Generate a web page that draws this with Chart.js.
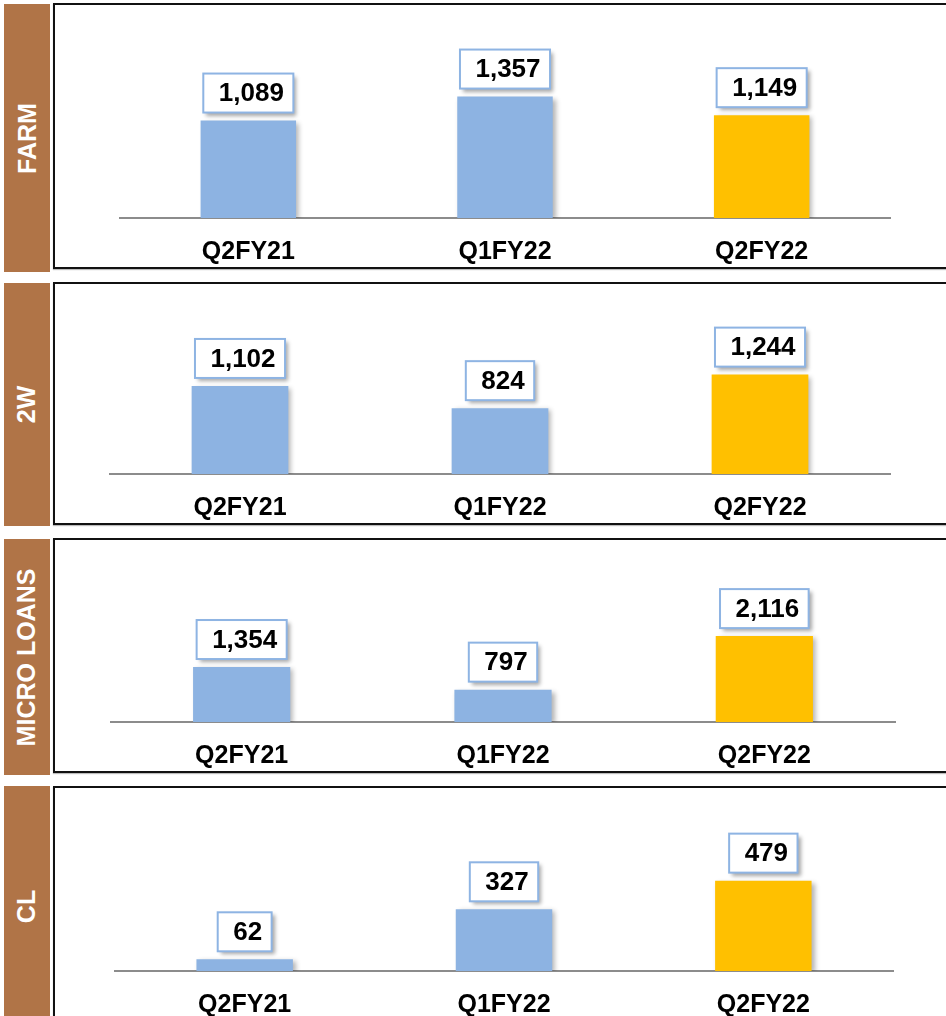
<!DOCTYPE html>
<html>
<head>
<meta charset="utf-8">
<script src="https://cdn.jsdelivr.net/npm/chart.js@4.4.1/dist/chart.umd.min.js"></script>
<style>
  body { margin: 0; background: #fff; width: 946px; height: 1016px; overflow: hidden; position: relative; font-family: "Liberation Sans", Arial, sans-serif; }
  .side { position: absolute; left: 4px; width: 46px; background: #B07447; display: flex; align-items: center; justify-content: center; }
  .side span { transform: rotate(-90deg); white-space: nowrap; color: #fff; font-weight: bold; font-size: 25px; }
  .box { position: absolute; left: 53px; width: 920px; border: 2px solid #111; box-sizing: border-box; box-shadow: 0 1px 1px #bbb; }
  canvas { position: absolute; left: 55px; }
</style>
</head>
<body>
<script>
// disbursement by segment, three quarters each
var quarters = ['Q2FY21', 'Q1FY22', 'Q2FY22'];
var segmentNames = ['FARM', '2W', 'MICRO LOANS', 'CL'];
var farmValues = [1089, 1357, 1149];
var twoWheelerValues = [1102, 824, 1244];
var microLoanValues = [1354, 797, 2116];
var clValues = [62, 327, 479];
var barColors = ['#8DB3E2', '#8DB3E2', '#FFC000'];

var segmentValues = [farmValues, twoWheelerValues, microLoanValues, clValues];

// page layout for each panel (px)
var panels = [
    { sideTop: 4,   sideH: 268, boxTop: 3,   boxH: 266, axisLeft: 120, axisRight: 890, yMax: 2380 },
    { sideTop: 283, sideH: 243, boxTop: 282, boxH: 243, axisLeft: 110, axisRight: 890, yMax: 2378 },
    { sideTop: 539, sideH: 236, boxTop: 538, boxH: 235, axisLeft: 111, axisRight: 895, yMax: 4483 },
    { sideTop: 786, sideH: 240, boxTop: 786, boxH: 250, axisLeft: 115, axisRight: 893, yMax: 970 }
];
var baselines = [218, 474, 722, 971];

var FONT = '"Liberation Sans", Arial, sans-serif';

// soft shadow under the bars
var barShadow = {
    id: 'barShadow',
    beforeDatasetsDraw: function (chart) {
        var ctx = chart.ctx;
        ctx.save();
        ctx.shadowColor = 'rgba(0,0,0,0.3)';
        ctx.shadowBlur = 5;
        ctx.shadowOffsetX = 3;
        ctx.shadowOffsetY = 2;
    },
    afterDatasetsDraw: function (chart) {
        chart.ctx.restore();
    }
};

// boxed value label above each bar
var valueBoxes = {
    id: 'valueBoxes',
    afterDraw: function (chart) {
        var ctx = chart.ctx;
        var meta = chart.getDatasetMeta(0);
        var values = chart.data.datasets[0].data;
        ctx.save();
        ctx.font = 'bold 26px ' + FONT;
        meta.data.forEach(function (bar, i) {
            var text = values[i].toLocaleString('en-US');
            var w = ctx.measureText(text).width + 25;
            var h = 39;
            var x = bar.x - w / 2;
            var y = bar.y - 8 - h;
            ctx.save();
            ctx.shadowColor = 'rgba(0,0,0,0.35)';
            ctx.shadowBlur = 4;
            ctx.shadowOffsetX = 3;
            ctx.shadowOffsetY = 3;
            ctx.fillStyle = '#fff';
            ctx.fillRect(x, y, w, h);
            ctx.restore();
            ctx.strokeStyle = '#8EB4E3';
            ctx.lineWidth = 2;
            ctx.strokeRect(x, y, w, h);
            ctx.fillStyle = '#000';
            ctx.textAlign = 'center';
            ctx.textBaseline = 'middle';
            ctx.fillText(text, bar.x + 3, y + h / 2 + 1);
        });
        ctx.restore();
    }
};

panels.forEach(function (p, k) {
    var side = document.createElement('div');
    side.className = 'side';
    side.style.top = p.sideTop + 'px';
    side.style.height = p.sideH + 'px';
    side.innerHTML = '<span>' + segmentNames[k] + '</span>';
    document.body.appendChild(side);

    var box = document.createElement('div');
    box.className = 'box';
    box.style.top = p.boxTop + 'px';
    box.style.height = p.boxH + 'px';
    document.body.appendChild(box);

    var top = p.boxTop + 2;
    var bottom = Math.min(p.boxTop + p.boxH - 2, 1016);
    var canvas = document.createElement('canvas');
    canvas.width = 891;
    canvas.height = bottom - top;
    canvas.style.top = top + 'px';
    document.body.appendChild(canvas);

    var axisHeight = bottom - baselines[k];

    new Chart(canvas, {
        type: 'bar',
        data: {
            labels: quarters,
            datasets: [{
                data: segmentValues[k],
                backgroundColor: barColors,
                borderWidth: 0,
                categoryPercentage: 1,
                barPercentage: 0.372
            }]
        },
        options: {
            responsive: false,
            animation: false,
            layout: { padding: { left: p.axisLeft - 55, right: 946 - p.axisRight, top: 0, bottom: 0 } },
            plugins: { legend: { display: false }, tooltip: { enabled: false } },
            scales: {
                x: {
                    grid: { display: false, drawTicks: false },
                    border: { display: true, color: '#8c8c8c', width: 2 },
                    ticks: { color: '#000', padding: 19, maxRotation: 0, autoSkip: false, font: { family: FONT, size: 25, weight: 'bold' } },
                    afterFit: function (scale) { scale.height = axisHeight; }
                },
                y: { display: false, min: 0, max: p.yMax }
            }
        },
        plugins: [barShadow, valueBoxes]
    });
});
</script>
</body>
</html>
